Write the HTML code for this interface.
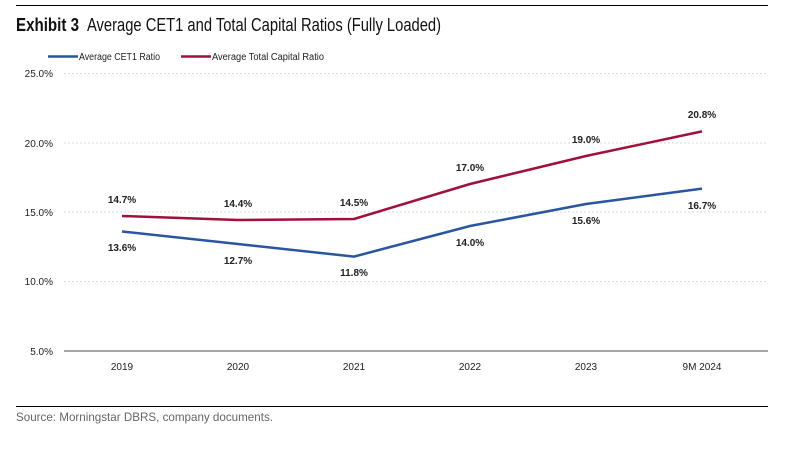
<!DOCTYPE html>
<html><head><meta charset="utf-8"><style>
body{margin:0;background:#fff;width:795px;height:445px;overflow:hidden}
text{font-family:"Liberation Sans Narrow","Liberation Sans",sans-serif}
</style></head><body>
<svg width="795" height="445" xmlns="http://www.w3.org/2000/svg">
<line x1="16" y1="5.5" x2="768" y2="5.5" stroke="#000" stroke-width="1"/>
<text x="16" y="31" font-size="18" fill="#111" font-weight="bold" textLength="63" lengthAdjust="spacingAndGlyphs">Exhibit 3</text>
<text x="87" y="31" font-size="18" fill="#111" textLength="354" lengthAdjust="spacingAndGlyphs">Average CET1 and Total Capital Ratios (Fully Loaded)</text>
<line x1="48" y1="56.5" x2="78" y2="56.5" stroke="#2a55a0" stroke-width="2.5"/>
<text x="79" y="60" font-size="10" fill="#222" textLength="81" lengthAdjust="spacingAndGlyphs">Average CET1 Ratio</text>
<line x1="181" y1="56.5" x2="211" y2="56.5" stroke="#a0103a" stroke-width="2.5"/>
<text x="212" y="60" font-size="10" fill="#222" textLength="112" lengthAdjust="spacingAndGlyphs">Average Total Capital Ratio</text>
<g stroke="#d8d8d8" stroke-dasharray="2,2" stroke-width="1">
<line x1="64" y1="73.5" x2="768" y2="73.5"/>
<line x1="64" y1="143" x2="768" y2="143"/>
<line x1="64" y1="212" x2="768" y2="212"/>
<line x1="64" y1="281.5" x2="768" y2="281.5"/>
</g>
<line x1="64" y1="351" x2="768" y2="351" stroke="#888" stroke-width="1.5"/>
<g font-size="10" fill="#222" text-anchor="end">
<text x="53" y="77">25.0%</text><text x="53" y="147">20.0%</text><text x="53" y="216">15.0%</text><text x="53" y="285">10.0%</text><text x="53" y="355">5.0%</text>
</g>
<g font-size="10" fill="#222" text-anchor="middle">
<text x="122" y="370">2019</text><text x="238" y="370">2020</text><text x="354" y="370">2021</text><text x="470" y="370">2022</text><text x="586" y="370">2023</text><text x="702" y="370">9M 2024</text>
</g>
<polyline fill="none" stroke="#2a55a0" stroke-width="2.5" points="122,231.5 238,244 354,256.6 470,226 586,204 702,188.6"/>
<polyline fill="none" stroke="#a0103a" stroke-width="2.5" points="122,216 238,220 354,219 470,184 586,156 702,131.4"/>
<g font-size="10" font-weight="bold" fill="#222" text-anchor="middle">
<text x="122" y="251">13.6%</text><text x="238" y="264">12.7%</text><text x="354" y="276">11.8%</text><text x="470" y="246">14.0%</text><text x="586" y="224">15.6%</text><text x="702" y="209">16.7%</text>
<text x="122" y="203">14.7%</text><text x="238" y="207">14.4%</text><text x="354" y="206">14.5%</text><text x="470" y="171">17.0%</text><text x="586" y="143">19.0%</text><text x="702" y="118">20.8%</text>
</g>
<line x1="16" y1="406.5" x2="768" y2="406.5" stroke="#000" stroke-width="1"/>
<text x="16" y="421" font-size="12" fill="#666" textLength="257" lengthAdjust="spacingAndGlyphs">Source: Morningstar DBRS, company documents.</text>
</svg>
</body></html>
